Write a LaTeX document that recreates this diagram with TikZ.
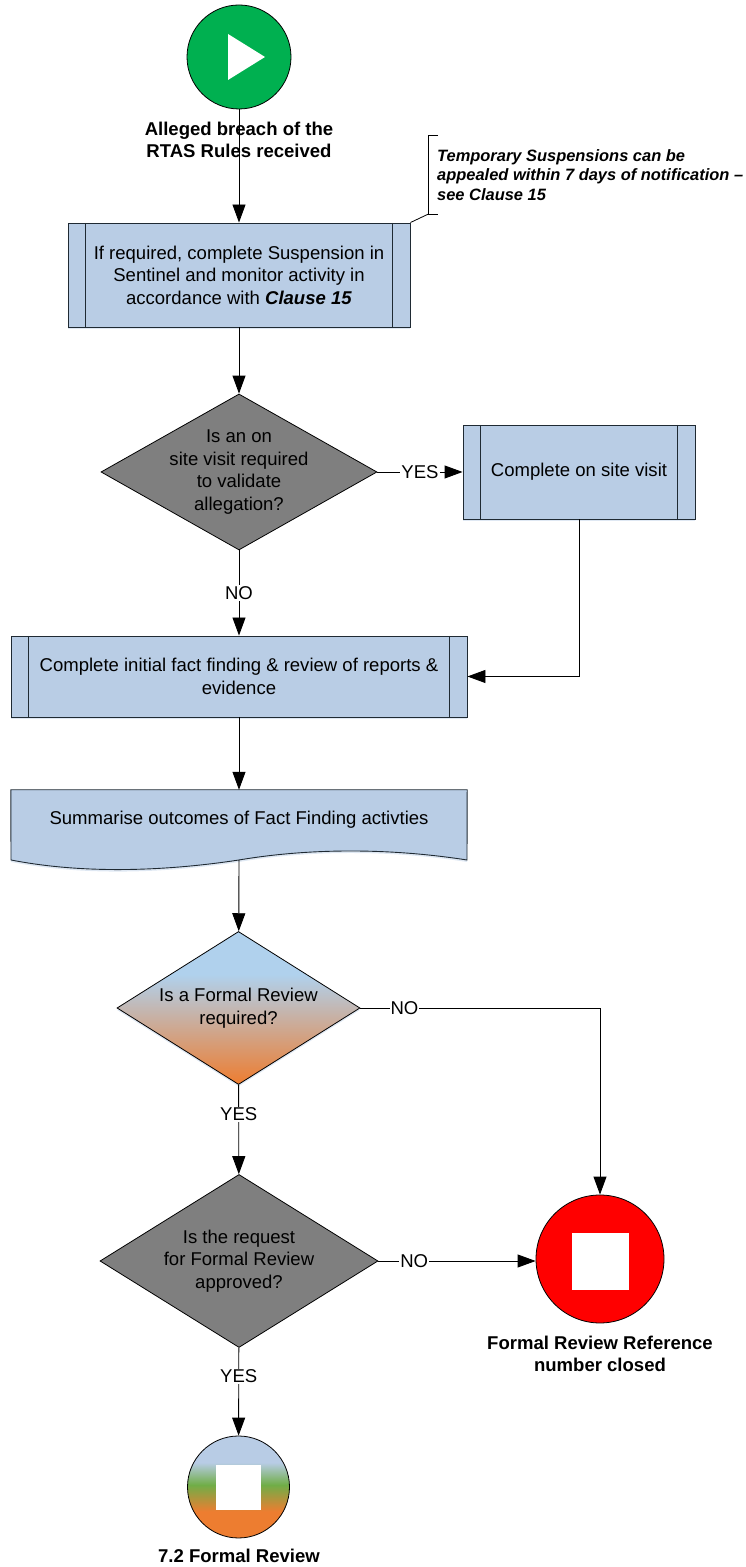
\documentclass[tikz,border=0pt]{standalone}
\usepackage{fontspec}
\setmainfont{Liberation Sans}
\usepackage{tikz}
\usetikzlibrary{shapes,arrows.meta,positioning,calc,shadows}
\definecolor{boxblue}{HTML}{B9CDE5}
\definecolor{startgreen}{HTML}{00B050}
\definecolor{decgray}{HTML}{7F7F7F}
\definecolor{edgeink}{HTML}{1F2A33}
\pgfdeclareverticalshading{formalshade}{100bp}{rgb(0bp)=(0.93,0.49,0.19); rgb(25bp)=(0.93,0.49,0.19); rgb(61bp)=(0.69,0.82,0.93); rgb(100bp)=(0.69,0.82,0.93)}
\pgfdeclareverticalshading{reviewshade}{100bp}{rgb(0bp)=(0.93,0.49,0.19); rgb(38bp)=(0.93,0.49,0.19); rgb(51bp)=(0.44,0.68,0.28); rgb(62bp)=(0.72,0.80,0.90); rgb(100bp)=(0.72,0.80,0.90)}
\tikzset{
  flowtext/.style={font=\fontsize{18.6}{22.6}\selectfont,align=center},
  headtext/.style={font=\bfseries\fontsize{18.6}{22}\selectfont,align=center},
  softshadow/.style={drop shadow={shadow xshift=0bp,shadow yshift=-2bp,fill=boxblue,opacity=.45}},
  process/.style={draw=edgeink,rectangle,fill=boxblue,line width=.9pt,inner sep=0pt,flowtext,softshadow,
    path picture={
      \draw [line width=.9pt,edgeink] ($(path picture bounding box.north west)+(17.5bp,0)$) -- ($(path picture bounding box.south west)+(17.5bp,0)$);
      \draw [line width=.9pt,edgeink] ($(path picture bounding box.north east)+(-17.5bp,0)$) -- ($(path picture bounding box.south east)+(-17.5bp,0)$);
    }},
  decision/.style={draw,diamond,line width=.8pt,shape aspect=1.77,inner sep=-8bp,flowtext},
  stopmark/.style={fill=white,rectangle,inner sep=0pt},
  lbl/.style={fill=white,inner sep=1bp,font=\fontsize{18.6}{20}\selectfont},
  flow/.style={->,>={Triangle[length=18bp,width=13bp]},line width=.9pt},
}
\begin{document}
\begin{tikzpicture}
\useasboundingbox (0,0) rectangle (746bp,1567bp);
%%
\node (start) at (239bp,1510bp) [draw,circle,fill=startgreen,line width=.8pt,inner sep=0pt,minimum size=104bp] {};
  \node (suspend) at (239bp,1292bp) [process,minimum width=342bp,minimum height=104bp] {If required, complete Suspension in\\Sentinel and monitor activity in\\accordance with \textbf{\textit{Clause 15}}};
  \node (visit) at (239bp,1095bp) [decision,fill=decgray,minimum width=276bp,minimum height=156bp] {Is an on\\site visit required\\to validate\\allegation?};
  \node (sitevisit) at (579bp,1095bp) [process,minimum width=232bp,minimum height=94bp] {Complete on site visit};
  \node (factfind) at (239bp,890.5bp) [process,minimum width=456bp,minimum height=81bp] {Complete initial fact finding \& review of reports \&\\evidence};
  \node (summary) at (239bp,747bp) [flowtext,inner sep=0pt,minimum width=456bp,minimum height=60bp] {};
  \coordinate (summaryout) at (239bp,707bp);
  \node (formal) at (238.5bp,559bp) [decision,softshadow,shade,shading=formalshade,minimum width=243bp,minimum height=153bp] {Is a Formal Review\\required?};
  \node (approve) at (239bp,306bp) [decision,fill=decgray,minimum width=278bp,minimum height=173bp] {Is the request\\for Formal Review\\approved?};
  \node (closed) at (600bp,308bp) [draw,circle,fill=red,line width=.8pt,inner sep=0pt,minimum size=128bp] {};
  \node (review) at (238.5bp,80bp) [draw,circle,shade,shading=reviewshade,line width=.8pt,inner sep=0pt,minimum size=102bp] {};
  \node (closedstop) at (600.5bp,305.5bp) [stopmark,minimum size=57bp] {};
  \node (reviewstop) at (238.5bp,79.5bp) [stopmark,minimum size=45bp] {};
  \coordinate (brackettop) at (438bp,1432bp);
  \coordinate (bracketbot) at (438bp,1353bp);
%
  \fill [white] ($(start)+(-11bp,23bp)$) -- ($(start)+(26bp,0)$) -- ($(start)+(-11bp,-23bp)$) -- cycle;
  \draw [line width=.9pt,draw=edgeink,fill=boxblue,softshadow] (summary.north west) -- (summary.north east) -- (467bp,707bp)
    .. controls (390bp,719bp) and (310bp,719bp) .. (summaryout)
    .. controls (160bp,695bp) and (80bp,693.5bp) .. (11bp,707bp) -- cycle;
  \node (summarytext) at (summary) [flowtext] {Summarise outcomes of Fact Finding activties};
%
  \draw [flow] (start) -- (suspend);
  \draw [flow] (suspend) -- (visit);
  \draw [flow] (visit) -- node [lbl] {YES} (sitevisit);
  \draw [flow] (visit) -- node [lbl] {NO} (factfind);
  \draw [flow] (sitevisit.south) |- (factfind.east);
  \draw [flow] (factfind) -- (summary);
  \draw [flow] (summaryout) -- (formal);
  \draw [flow] (formal.east) -| node [lbl,pos=.092] {NO} (closed.north);
  \draw [flow] (formal) -- node [lbl,pos=.33] {YES} (approve);
  \draw [flow] (approve.east) -- node [lbl,pos=.228] {NO} (closed.west |- approve.east);
  \draw [flow] (approve) -- node [lbl,pos=.326] {YES} (review);
  \draw [line width=.8pt] (brackettop) -- ++(-9.5bp,0) |- (bracketbot);
  \draw [line width=.8pt] ($(bracketbot)+(-9.5bp,0)$) -- (suspend.north east);
%
  \node (starttext) at (239bp,1427bp) [headtext] {Alleged breach of the\\RTAS Rules received};
  \node (notetext) at (437bp,1392bp) [anchor=west,inner sep=0pt,align=left,font=\bfseries\itshape\fontsize{16.5}{19.6}\selectfont] {Temporary Suspensions can be\\appealed within 7 days of notification --\\see Clause 15};
  \node (closedtext) at (600bp,213bp) [headtext] {Formal Review Reference\\number closed};
  \node (reviewtext) at (239bp,11bp) [headtext] {7.2 Formal Review};
%
\end{tikzpicture}
\end{document}
